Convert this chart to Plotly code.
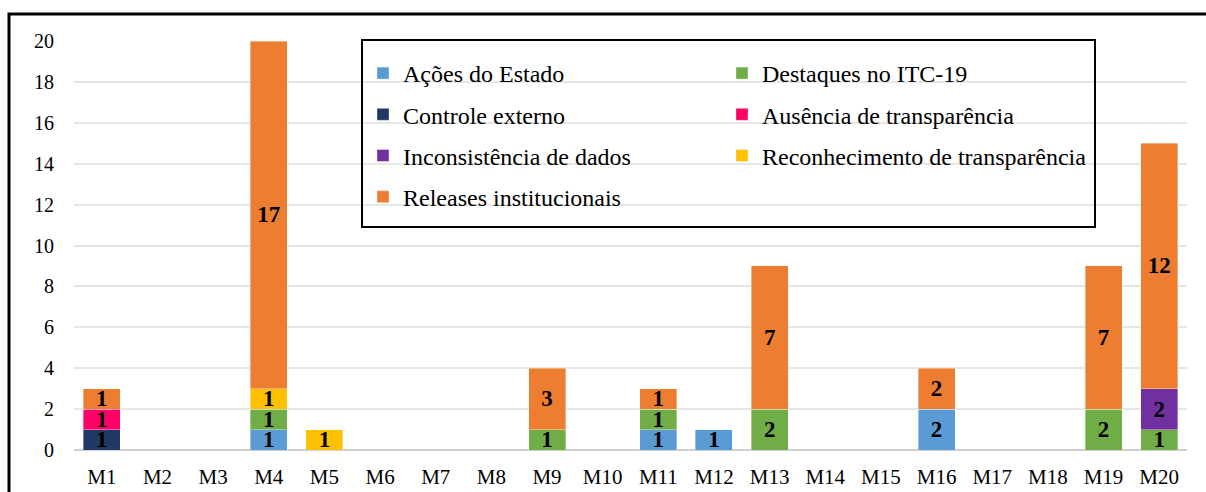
import plotly.graph_objects as go

categories = [f"M{i}" for i in range(1, 21)]

series_names = [
    "Ações do Estado",
    "Destaques no ITC-19",
    "Controle externo",
    "Ausência de transparência",
    "Inconsistência de dados",
    "Reconhecimento de transparência",
    "Releases institucionais",
]

acoes_estado =        [0, 0, 0, 1, 0, 0, 0, 0, 0, 0, 1, 1, 0, 0, 0, 2, 0, 0, 0, 0]
destaques_itc19 =     [0, 0, 0, 1, 0, 0, 0, 0, 1, 0, 1, 0, 2, 0, 0, 0, 0, 0, 2, 1]
controle_externo =    [1, 0, 0, 0, 0, 0, 0, 0, 0, 0, 0, 0, 0, 0, 0, 0, 0, 0, 0, 0]
ausencia_transp =     [1, 0, 0, 0, 0, 0, 0, 0, 0, 0, 0, 0, 0, 0, 0, 0, 0, 0, 0, 0]
inconsistencia =      [0, 0, 0, 0, 0, 0, 0, 0, 0, 0, 0, 0, 0, 0, 0, 0, 0, 0, 0, 2]
reconhecimento =      [0, 0, 0, 1, 1, 0, 0, 0, 0, 0, 0, 0, 0, 0, 0, 0, 0, 0, 0, 0]
releases =            [1, 0, 0, 17, 0, 0, 0, 0, 3, 0, 1, 0, 7, 0, 0, 2, 0, 0, 7, 12]

series_values = [acoes_estado, destaques_itc19, controle_externo, ausencia_transp,
                 inconsistencia, reconhecimento, releases]

colors = ["#5B9BD5", "#70AD47", "#203864", "#FF0066", "#7030A0", "#FFC000", "#ED7D31"]

y_ticks = [0, 2, 4, 6, 8, 10, 12, 14, 16, 18, 20]

legend_col = ["legend", "legend2", "legend", "legend2", "legend", "legend2", "legend"]

FONT = "'Liberation Serif', 'Times New Roman', serif"

fig = go.Figure()
for name, vals, col, lg in zip(series_names, series_values, colors, legend_col):
    y = [v if v else None for v in vals]
    txt = [str(v) if v else "" for v in vals]
    fig.add_trace(go.Bar(
        name=name, x=categories, y=y, text=txt,
        marker=dict(color=col, line=dict(color="rgba(255,255,255,0.6)", width=0.6)),
        textposition="inside", insidetextanchor="middle", constraintext="none",
        textangle=0,
        textfont=dict(family=FONT, size=23, color="black", weight="bold"),
        legend=lg, legendgroup=name,
    ))

L, R, T, B = 74, 19, 41, 42
W, H = 1206, 492
pw = W - L - R
ph = H - T - B

def px_x(p):
    return (p - L) / pw

def px_y(p):
    return (H - B - p) / ph

legend_common = dict(
    orientation="v", traceorder="grouped", tracegroupgap=7,
    font=dict(family=FONT, size=24, color="black"),
    bgcolor="rgba(0,0,0,0)", borderwidth=0,
    xanchor="left", yanchor="top",
)

fig.update_layout(
    width=W, height=H,
    margin=dict(l=L, r=R, t=T, b=B, autoexpand=False),
    barmode="stack", bargap=0.335,
    plot_bgcolor="white", paper_bgcolor="white",
    font=dict(family=FONT, color="black"),
    legend=dict(x=px_x(363), y=px_y(51), **legend_common),
    legend2=dict(x=px_x(722), y=px_y(51), **legend_common),
    xaxis=dict(
        categoryorder="array", categoryarray=categories,
        tickfont=dict(family=FONT, size=21, color="black"),
        showgrid=False, ticks="", ticklabelstandoff=12,
        showline=False, zeroline=False, automargin=False,
    ),
    yaxis=dict(
        range=[0, 20], tickvals=y_ticks,
        tickfont=dict(family=FONT, size=20, color="black"),
        showgrid=True, gridcolor="#E6E6E6", gridwidth=1.5,
        zeroline=True, zerolinecolor="#D0D0D0", zerolinewidth=2,
        ticks="", ticklabelstandoff=19, showline=False, automargin=False,
    ),
    shapes=[
        dict(type="rect", xref="paper", yref="paper",
             x0=px_x(362), x1=px_x(1095), y0=px_y(227), y1=px_y(40),
             line=dict(color="black", width=2), fillcolor="rgba(0,0,0,0)", layer="above"),
        dict(type="rect", xref="paper", yref="paper",
             x0=px_x(9), x1=px_x(1230), y0=px_y(520), y1=px_y(14),
             line=dict(color="black", width=3), fillcolor="rgba(0,0,0,0)", layer="above"),
    ],
)

fig.write_html("out.html")
